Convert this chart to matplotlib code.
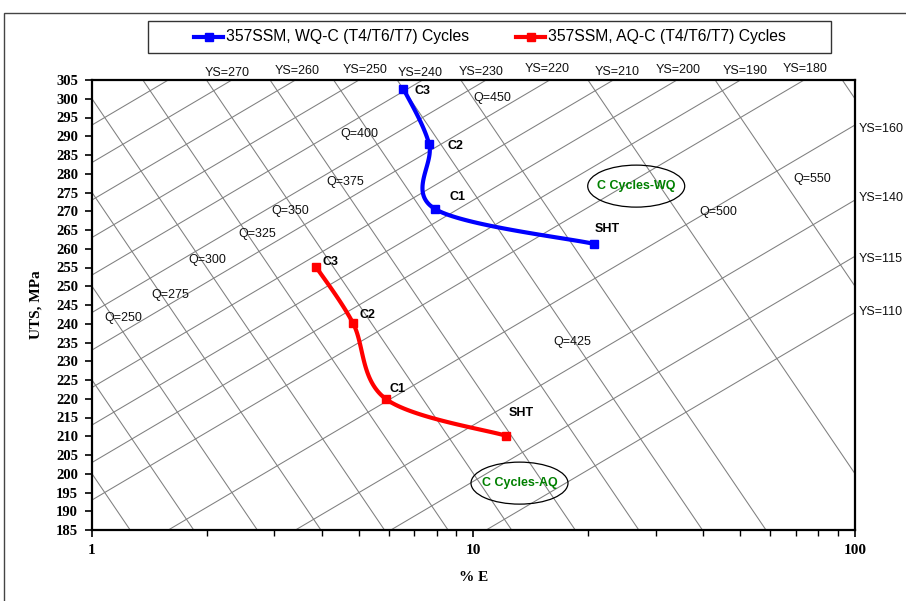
import numpy as np
import matplotlib
matplotlib.use("Agg")
import matplotlib.pyplot as plt
from matplotlib.patches import Ellipse, Rectangle
from matplotlib.lines import Line2D
import matplotlib.ticker as mticker

# ---------------- data ----------------
wq_name = "357SSM, WQ-C (T4/T6/T7) Cycles"
wq_points = ["C3", "C2", "C1", "SHT"]
wq_E = [6.55, 7.65, 7.93, 20.7]
wq_UTS = [302.7, 287.9, 270.6, 261.3]

aq_name = "357SSM, AQ-C (T4/T6/T7) Cycles"
aq_points = ["C3", "C2", "C1", "SHT"]
aq_E = [3.87, 4.83, 5.90, 12.2]
aq_UTS = [255.1, 240.2, 219.9, 210.1]

# iso-quality lines  Q = UTS + 150 log(E)
q_values = [200, 225, 250, 275, 300, 325, 350, 375, 400, 425, 450, 500, 550, 600]
q_labels = ["Q=250", "Q=275", "Q=300", "Q=325", "Q=350", "Q=375", "Q=400",
            "Q=450", "Q=425", "Q=500", "Q=550"]
q_label_E = [1.21, 1.60, 2.01, 2.71, 3.30, 4.60, 5.01, 11.2, 18.2, 43.7, 77.1]
q_label_UTS = [241.5, 247.7, 257.0, 263.9, 270.1, 277.8, 290.6, 300.2, 235.1, 269.8, 278.6]

# iso-yield lines  YS = UTS - 60 log(E) - 13
ys_values = [280, 270, 260, 250, 240, 230, 220, 210, 200, 190, 180, 160, 140, 125, 110]
ys_top_labels = ["YS=270", "YS=260", "YS=250", "YS=240", "YS=230", "YS=220",
                 "YS=210", "YS=200", "YS=190", "YS=180"]
ys_top_E = [2.26, 3.45, 5.2, 7.24, 10.5, 15.6, 23.8, 34.4, 51.5, 73.9]
ys_right_labels = ["YS=160", "YS=140", "YS=115", "YS=110"]
ys_right_UTS = [292.0, 273.5, 257.3, 243.1]

y_ticks = list(range(185, 306, 5))
x_ticks = [1, 10, 100]

# ---------------- helpers ----------------
W, H = 906, 601
AX_L, AX_R, AX_T, AX_B = 92, 855, 80, 530
XS = (AX_R - AX_L) / 2.0       # px per decade
YS_ = (AX_B - AX_T) / 120.0    # px per MPa


def fx(px):
    return px / W


def fy(py):
    return 1 - py / H


def smooth(E, U, n=40):
    P = np.column_stack([np.log10(E) * XS, np.array(U) * YS_])
    out = [P[0]]
    m = len(P)
    for i in range(m - 1):
        p0 = P[i - 1] if i > 0 else P[i]
        p1 = P[i]
        p2 = P[i + 1]
        p3 = P[i + 2] if i + 2 < m else P[i + 1]
        c1 = p1 + (p2 - p0) / 6.0
        c2 = p2 - (p3 - p1) / 6.0
        t = np.linspace(0, 1, n)[1:, None]
        seg = ((1 - t) ** 3) * p1 + 3 * ((1 - t) ** 2) * t * c1 + 3 * (1 - t) * t ** 2 * c2 + t ** 3 * p2
        out.extend(seg)
    out = np.array(out)
    return 10 ** (out[:, 0] / XS), out[:, 1] / YS_


SANS = ["Liberation Sans", "DejaVu Sans"]
SERIF = ["Liberation Serif", "DejaVu Serif"]

fig = plt.figure(figsize=(W / 100, H / 100), dpi=100)
ax = fig.add_axes([fx(AX_L), fy(AX_B), (AX_R - AX_L) / W, (AX_B - AX_T) / H])
ax.set_xscale("log")
ax.set_xlim(1, 100)
ax.set_ylim(185, 305)

Eg = np.logspace(0, 2, 500)
for q in q_values:
    ax.plot(Eg, q - 150 * np.log10(Eg), color="#7f7f7f", lw=0.75, zorder=1)
for ys in ys_values:
    ax.plot(Eg, ys + 13 + 60 * np.log10(Eg), color="#7f7f7f", lw=0.75, zorder=1)

# series
for E, U, c in [(wq_E, wq_UTS, "#0000ff"), (aq_E, aq_UTS, "#ff0000")]:
    sx, sy = smooth(E, U)
    ax.plot(sx, sy, color=c, lw=3, zorder=3, solid_capstyle="butt")
    ax.plot(E, U, "s", color=c, ms=6, zorder=4)

wq_off = [(19, -2), (26, -2), (22, 12), (13, 15)]
aq_off = [(14, 5), (15, 8), (11, 10), (15, 23)]
for names, E, U, offs in [(wq_points, wq_E, wq_UTS, wq_off), (aq_points, aq_E, aq_UTS, aq_off)]:
    for nm, e, u, o in zip(names, E, U, offs):
        ax.annotate(nm, (e, u), xytext=o, textcoords="offset pixels", ha="center", va="center",
                    fontsize=9, fontweight="bold", family=SANS, zorder=5)

# Q labels
for t, e, u in zip(q_labels, q_label_E, q_label_UTS):
    ax.text(e, u, t, ha="center", va="center", fontsize=9, family=SANS, color="#111111", zorder=2)

# YS labels on top
top_y = [1.0156, 1.020, 1.022, 1.0156, 1.0178, 1.0244, 1.0178, 1.022, 1.020, 1.0244]
btr = matplotlib.transforms.blended_transform_factory(ax.transData, ax.transAxes)
for t, e, yy in zip(ys_top_labels, ys_top_E, top_y):
    ax.text(e, yy, t, transform=btr, ha="center", va="center", fontsize=9, family=SANS,
            color="#111111", clip_on=False)
btr2 = matplotlib.transforms.blended_transform_factory(ax.transAxes, ax.transData)
for t, u in zip(ys_right_labels, ys_right_UTS):
    ax.text(1.005, u, t, transform=btr2, ha="left", va="center", fontsize=9, family=SANS,
            color="#111111", clip_on=False)

# ellipses with labels
to_axes = ax.transData + ax.transAxes.inverted()
for txt, ce, cu in [("C Cycles-WQ", 26.7, 276.7), ("C Cycles-AQ", 13.2, 197.5)]:
    cx, cy = to_axes.transform((ce, cu))
    ax.add_patch(Ellipse((cx, cy), 97 / (AX_R - AX_L), 42 / (AX_B - AX_T), transform=ax.transAxes,
                         fill=False, edgecolor="black", lw=0.9, zorder=5))
    ax.text(cx, cy, txt, transform=ax.transAxes, ha="center", va="center", fontsize=9,
            fontweight="bold", color="#008000", family=SANS, zorder=6)

# axes style
for s in ax.spines.values():
    s.set_linewidth(1.6)
    s.set_color("black")
ax.set_yticks(y_ticks)
ax.set_yticklabels([str(v) for v in y_ticks], fontsize=10.5, fontweight="bold", family=SERIF)
ax.xaxis.set_major_locator(mticker.FixedLocator(x_ticks))
ax.set_xticklabels([str(v) for v in x_ticks], fontsize=11, fontweight="bold", family=SERIF)
ax.xaxis.set_minor_locator(mticker.LogLocator(base=10, subs=np.arange(2, 10)))
ax.xaxis.set_minor_formatter(mticker.NullFormatter())
ax.tick_params(axis="both", which="major", direction="out", length=5, width=1.2, pad=5)
ax.tick_params(axis="x", which="minor", direction="out", length=4, width=1.0)
ax.tick_params(axis="y", which="minor", left=False)
ax.set_xlabel("% E", fontsize=11, fontweight="bold", family=SERIF, labelpad=10)
ax.set_ylabel("UTS, MPa", fontsize=11, fontweight="bold", family=SERIF, labelpad=10)

# legend (manual)
fig.patches.append(Rectangle((fx(148), fy(53)), (831 - 148) / W, (53 - 21) / H, transform=fig.transFigure,
                             fill=False, edgecolor="#333333", lw=1.0))
for (x0, x1, xt), c, nm in [((194, 223, 226), "#0000ff", wq_name), ((516, 545, 548), "#ff0000", aq_name)]:
    fig.lines.append(Line2D([fx(x0), fx(x1)], [fy(37), fy(37)], transform=fig.transFigure,
                            color=c, lw=3))
    fig.lines.append(Line2D([fx((x0 + x1) / 2)], [fy(37)], transform=fig.transFigure, color=c,
                            marker="s", ms=6))
    fig.text(fx(xt), fy(37), nm, ha="left", va="center", fontsize=11.3, family=SANS)

# outer chart border
fig.patches.append(Rectangle((fx(4), -0.05), 1.1, fy(13) + 0.05, transform=fig.transFigure,
                             fill=False, edgecolor="#444444", lw=1.0))

fig.savefig("out.png", dpi=100)
